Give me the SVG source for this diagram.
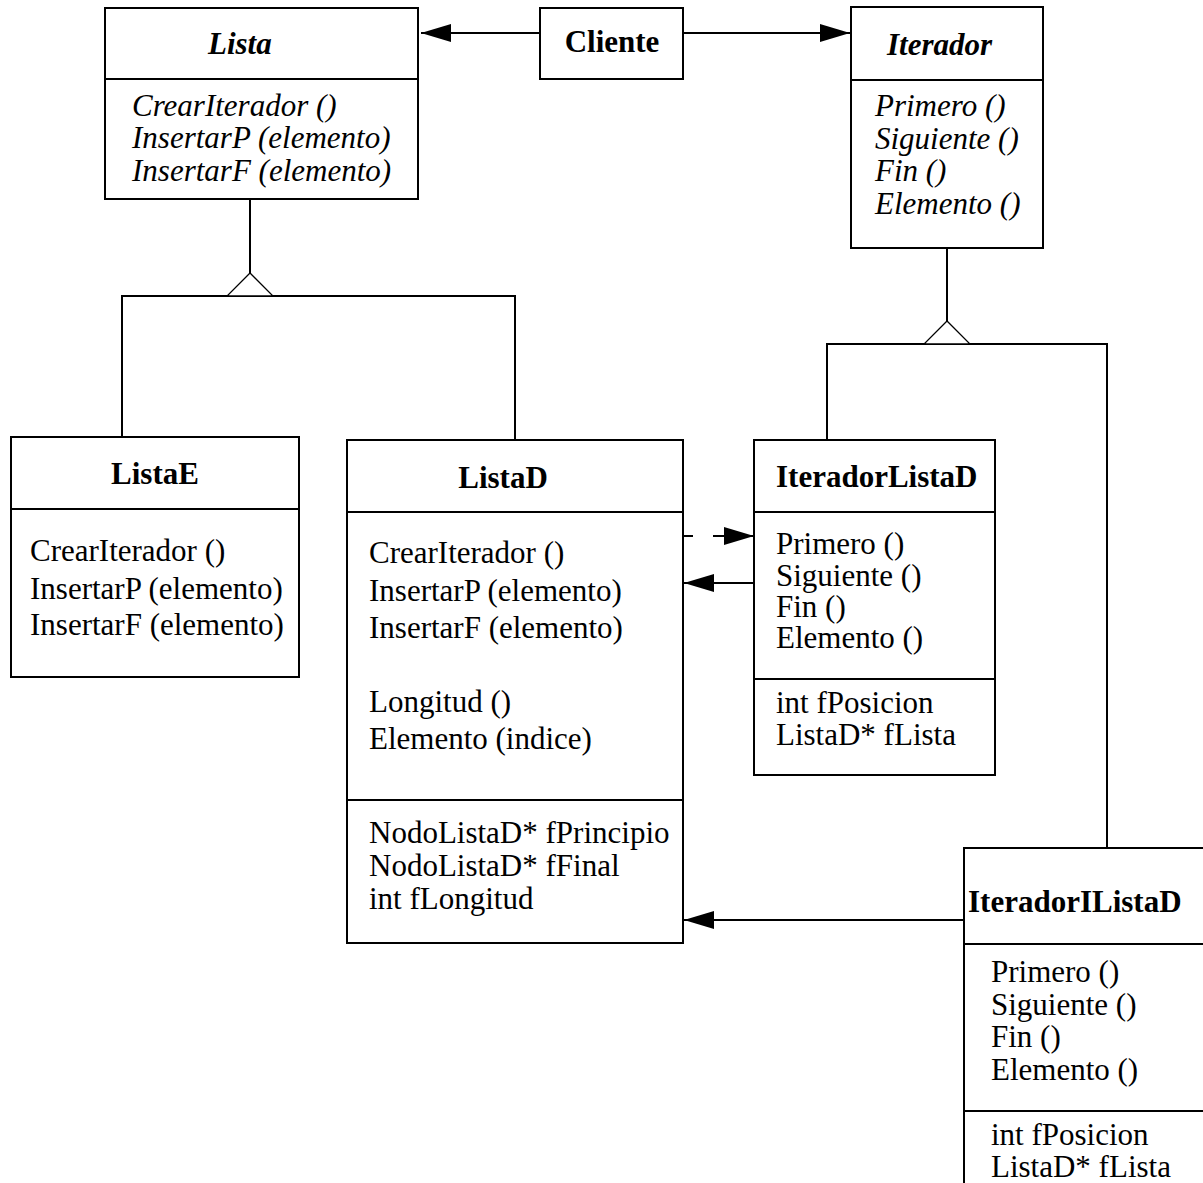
<svg xmlns="http://www.w3.org/2000/svg" width="1203" height="1183" viewBox="0 0 1203 1183">
<style>
.box{fill:#fff;stroke:#000;stroke-width:2}
.sep{stroke:#000;stroke-width:2}
.t{font-family:"Liberation Serif","Times New Roman",serif;font-size:31px;fill:#000}
.b{font-weight:bold}
.i{font-style:italic}
.c{fill:none;stroke:#000;stroke-width:2}
.tri{fill:#fff;stroke:#000;stroke-width:1.3}
</style>
<defs>
<marker id="arr" viewBox="0 0 30 18" refX="30" refY="9" markerWidth="30" markerHeight="18" markerUnits="userSpaceOnUse" orient="auto">
<path d="M0,0 L30,9 L0,18 z" fill="#000"/>
</marker>
</defs>
<rect width="1203" height="1183" fill="#fff"/>

<g id="connectors">
<line class="c" x1="540" y1="33" x2="421" y2="33" marker-end="url(#arr)"/>
<line class="c" x1="683" y1="33" x2="850" y2="33" marker-end="url(#arr)"/>
<polyline class="c" points="250,198 250,273"/>
<polyline class="c" points="122,437 122,296 515,296 515,440"/>
<polygon class="tri" points="250,273 227,296 273,296"/>
<polyline class="c" points="947,248 947,321"/>
<polyline class="c" points="827,440 827,344 1107,344 1107,848"/>
<polygon class="tri" points="947,321 924,344 970,344"/>
<line class="c" x1="683" y1="536" x2="693" y2="536"/>
<line class="c" x1="713" y1="536" x2="754" y2="536" marker-end="url(#arr)"/>
<line class="c" x1="754" y1="583" x2="684" y2="583" marker-end="url(#arr)"/>
<line class="c" x1="964" y1="920" x2="684" y2="920" marker-end="url(#arr)"/>
</g>

<g id="Lista">
<rect class="box" x="105" y="8" width="313" height="191"/>
<line class="sep" x1="105" y1="79" x2="418" y2="79"/>
<text class="t b i" x="208" y="54">Lista</text>
<text class="t i" x="132" y="116">CrearIterador ()</text>
<text class="t i" x="132" y="148">InsertarP (elemento)</text>
<text class="t i" x="132" y="181">InsertarF (elemento)</text>
</g>

<g id="Cliente">
<rect class="box" x="540" y="8" width="143" height="71"/>
<text class="t b" x="612" y="52" text-anchor="middle">Cliente</text>
</g>

<g id="Iterador">
<rect class="box" x="851" y="7" width="192" height="241"/>
<line class="sep" x1="851" y1="80" x2="1043" y2="80"/>
<text class="t b i" x="887" y="55">Iterador</text>
<text class="t i" x="875" y="116">Primero ()</text>
<text class="t i" x="875" y="149">Siguiente ()</text>
<text class="t i" x="875" y="181">Fin ()</text>
<text class="t i" x="875" y="214">Elemento ()</text>
</g>

<g id="ListaE">
<rect class="box" x="11" y="437" width="288" height="240"/>
<line class="sep" x1="11" y1="509" x2="299" y2="509"/>
<text class="t b" x="155" y="484" text-anchor="middle">ListaE</text>
<text class="t" x="30" y="561">CrearIterador ()</text>
<text class="t" x="30" y="599">InsertarP (elemento)</text>
<text class="t" x="30" y="635">InsertarF (elemento)</text>
</g>

<g id="ListaD">
<rect class="box" x="347" y="440" width="336" height="503"/>
<line class="sep" x1="347" y1="512" x2="683" y2="512"/>
<line class="sep" x1="347" y1="800" x2="683" y2="800"/>
<text class="t b" x="503" y="488" text-anchor="middle">ListaD</text>
<text class="t" x="369" y="563">CrearIterador ()</text>
<text class="t" x="369" y="601">InsertarP (elemento)</text>
<text class="t" x="369" y="638">InsertarF (elemento)</text>
<text class="t" x="369" y="712">Longitud ()</text>
<text class="t" x="369" y="749">Elemento (indice)</text>
<text class="t" x="369" y="843">NodoListaD* fPrincipio</text>
<text class="t" x="369" y="876">NodoListaD* fFinal</text>
<text class="t" x="369" y="909">int fLongitud</text>
</g>

<g id="IteradorListaD">
<rect class="box" x="754" y="440" width="241" height="335"/>
<line class="sep" x1="754" y1="512" x2="995" y2="512"/>
<line class="sep" x1="754" y1="679" x2="995" y2="679"/>
<text class="t b" x="776" y="487">IteradorListaD</text>
<text class="t" x="776" y="554">Primero ()</text>
<text class="t" x="776" y="586">Siguiente ()</text>
<text class="t" x="776" y="617">Fin ()</text>
<text class="t" x="776" y="648">Elemento ()</text>
<text class="t" x="776" y="713">int fPosicion</text>
<text class="t" x="776" y="745">ListaD* fLista</text>
</g>

<g id="IteradorIListaD">
<rect class="box" x="964" y="848" width="260" height="360"/>
<line class="sep" x1="964" y1="944" x2="1224" y2="944"/>
<line class="sep" x1="964" y1="1111" x2="1224" y2="1111"/>
<text class="t b" x="968" y="912">IteradorIListaD</text>
<text class="t" x="991" y="982">Primero ()</text>
<text class="t" x="991" y="1015">Siguiente ()</text>
<text class="t" x="991" y="1047">Fin ()</text>
<text class="t" x="991" y="1080">Elemento ()</text>
<text class="t" x="991" y="1145">int fPosicion</text>
<text class="t" x="991" y="1177">ListaD* fLista</text>
</g>
</svg>
